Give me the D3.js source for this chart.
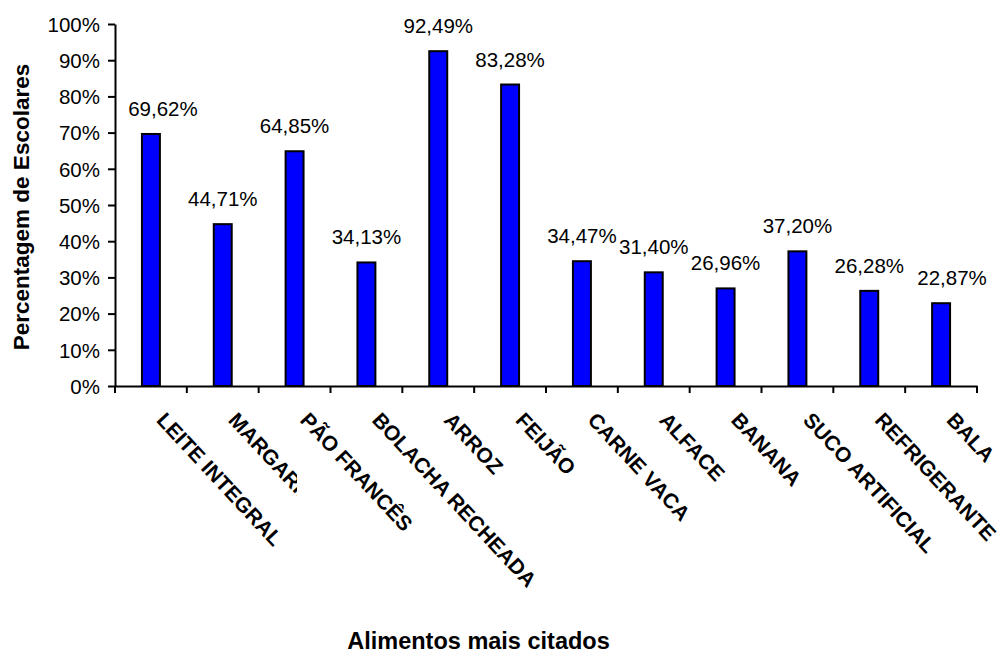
<!DOCTYPE html>
<html><head><meta charset="utf-8">
<script src="https://cdn.jsdelivr.net/npm/d3@7"></script>
<style>
body{margin:0;background:#fff;}
text{font-family:"Liberation Sans",Arial,sans-serif;}
</style></head>
<body><svg id="c" width="1003" height="655"></svg>
<script>
const categories = ["LEITE INTEGRAL","MARGARINA","PÃO FRANCÊS","BOLACHA RECHEADA","ARROZ","FEIJÃO","CARNE VACA","ALFACE","BANANA","SUCO ARTIFICIAL","REFRIGERANTE","BALA"];
const values = [69.62,44.71,64.85,34.13,92.49,83.28,34.47,31.40,26.96,37.20,26.28,22.87];
const valueLabels = ["69,62%","44,71%","64,85%","34,13%","92,49%","83,28%","34,47%","31,40%","26,96%","37,20%","26,28%","22,87%"];
const yTicks = [0,10,20,30,40,50,60,70,80,90,100];
const yTitle = "Percentagem de Escolares";
const xTitle = "Alimentos mais citados";

(function(){
const svg = d3.select("#c");
const FF = "'Liberation Sans',Arial,sans-serif";
const mLeft = 115, mRight = 977, mTop = 24, mBottom = 386;
const x = d3.scaleBand().domain(categories).range([mLeft, mRight]).paddingInner(0).paddingOuter(0);
const y = d3.scaleLinear().domain([0,100]).range([mBottom, mTop]);

// y axis
const yAxis = d3.axisLeft(y).tickValues(yTicks).tickFormat(d => d + "%").tickSize(7).tickSizeOuter(0);
const gy = svg.append("g").attr("transform", `translate(${mLeft},0)`).call(yAxis);
gy.select(".domain").attr("stroke","#000").attr("stroke-width",2);
gy.selectAll(".tick line").attr("stroke","#000").attr("stroke-width",2);
gy.selectAll(".tick text").attr("font-size",20.5).attr("fill","#000").attr("x",-15).attr("dy","0.36em")
  .style("font-family",FF);

// bars
const bw = x.bandwidth()*0.25;
svg.append("g").selectAll("rect").data(values).join("rect")
  .attr("x",(d,i)=>x(categories[i])+x.bandwidth()/2-bw/2)
  .attr("y",d=>y(d))
  .attr("width",bw)
  .attr("height",d=>mBottom-y(d))
  .attr("fill","#0000ff").attr("stroke","#000").attr("stroke-width",2);

// x axis
const xAxis = d3.axisBottom(x).tickSize(0).tickFormat("");
const gx = svg.append("g").attr("transform",`translate(0,${mBottom})`).call(xAxis);
gx.select(".domain").attr("stroke","#000").attr("stroke-width",2);
const bounds = categories.map(c=>x(c)).concat([mRight]);
gx.selectAll("line.bt").data(bounds).join("line").attr("class","bt")
  .attr("x1",d=>d).attr("x2",d=>d).attr("y1",0).attr("y2",7)
  .attr("stroke","#000").attr("stroke-width",2);

// value labels (end labels nudged like the original)
const nudge = i => i===0 ? 12 : (i===categories.length-1 ? 11 : 0);
svg.append("g").selectAll("text").data(values).join("text")
  .attr("x",(d,i)=>x(categories[i])+x.bandwidth()/2+nudge(i))
  .attr("y",d=>y(d)-18)
  .attr("text-anchor","middle").attr("font-size",20.5).attr("fill","#000")
  .style("font-family",FF)
  .text((d,i)=>valueLabels[i]);

// category labels
const defs = svg.append("defs");
defs.append("clipPath").attr("id","clipM").attr("clipPathUnits","userSpaceOnUse").append("rect")
  .attr("x",0).attr("y",0).attr("width",297).attr("height",655);
const gl = svg.append("g");
categories.forEach((c,i)=>{
  const g = gl.append("g");
  if (i===1) g.attr("clip-path","url(#clipM)");
  g.append("text")
    .attr("transform",`translate(${x(c)+x.bandwidth()/2+4.5},${mBottom+35}) rotate(47)`)
    .attr("font-size",21).attr("font-weight","bold").attr("fill","#000")
    .style("font-family",FF)
    .text(c);
});

// axis titles
svg.append("text").attr("transform",`translate(29,${(mTop+mBottom)/2+2}) rotate(-90)`)
  .attr("text-anchor","middle").attr("font-size",22.5).attr("font-weight","bold")
  .style("font-family",FF).text(yTitle);
svg.append("text").attr("x",478.5).attr("y",649)
  .attr("text-anchor","middle").attr("font-size",23.5).attr("font-weight","bold")
  .style("font-family",FF).text(xTitle);
})();
</script></body></html>
